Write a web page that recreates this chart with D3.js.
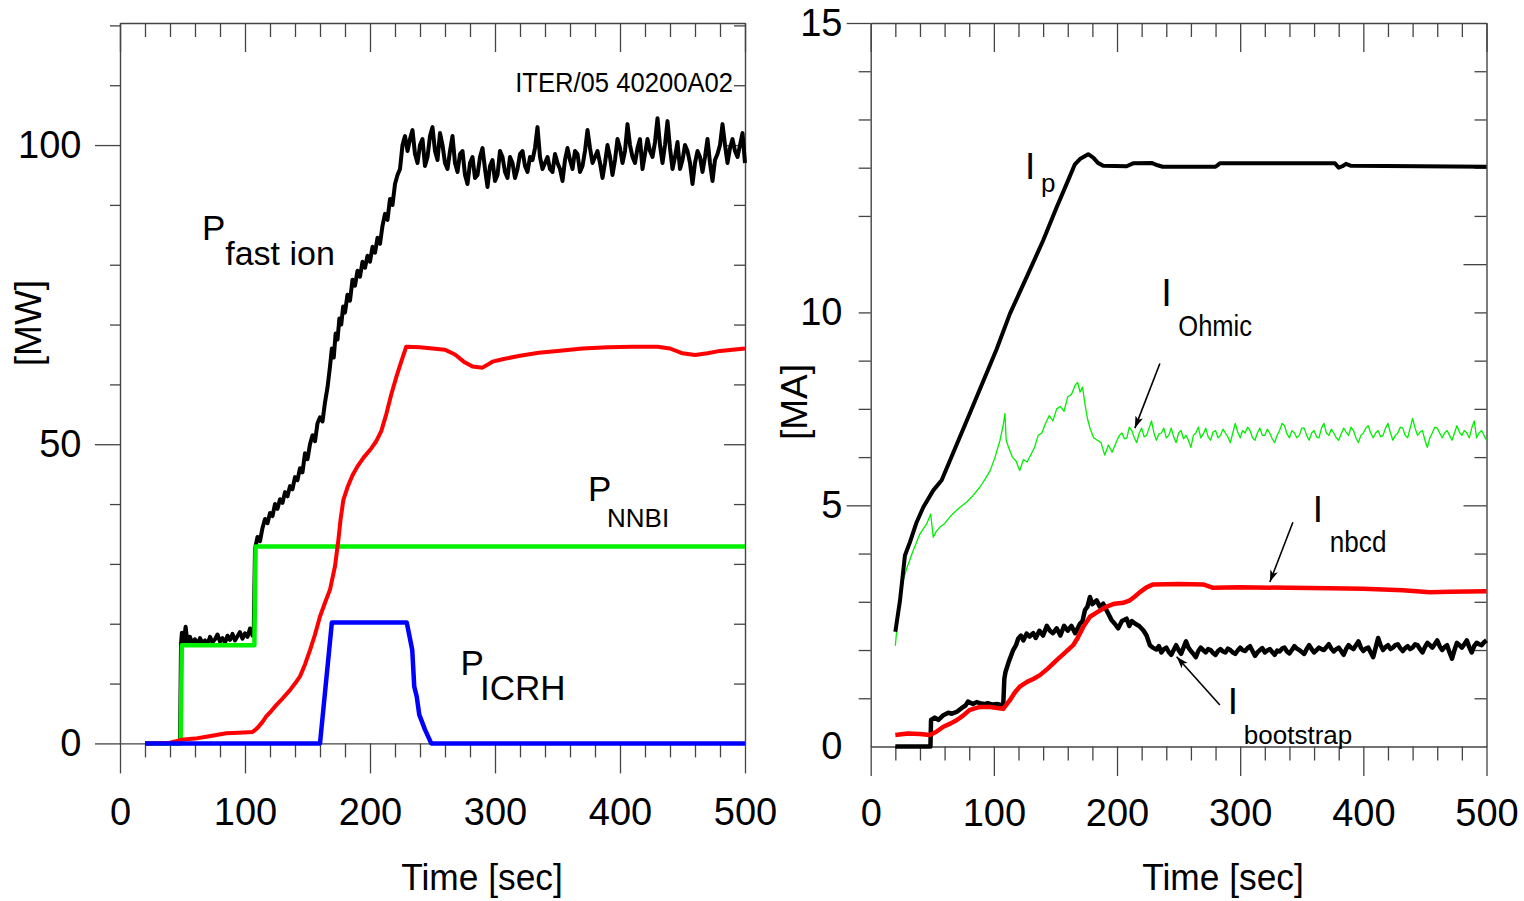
<!DOCTYPE html>
<html>
<head>
<meta charset="utf-8">
<script src="https://cdn.jsdelivr.net/npm/d3@7"></script>
<style>
  body { margin: 0; background: #fff; }
  text { font-family: "Liberation Sans", Arial, sans-serif; fill: #000; }
</style>
</head>
<body>
<svg id="chart" width="1524" height="901"></svg>
<script>
// ---- left panel data: power [MW] vs time [sec]
var pFastIon = [[20,0],[48,0],[48.8,16.5],[49.5,18.5],[51,17],[52.5,19.5],[54,16.8],[56,17.8],[58,16.6],[60,17.4],[62,16.5],[64,17.6],[66,16.8],[68,17.2],[70,16.6],[72,17.8],[74,16.9],[76,17.4],[78,18.2],[80,17],[82,17.6],[84,16.8],[86,18],[88,17.3],[90,18.3],[92,17.2],[94,17.9],[96,18.6],[98,17.5],[100,18.4],[102,17.8],[104,19.2],[106,18],[107,18.8],
  [108,32.5],[110,34.5],[112,33.8],[114,36],[116,37.5],[118,36.8],[120,38.5],[122,38],[124,40],[126,39.2],[128,40.8],[130,40.2],[132,42],[134,41.3],[136,43],[138,42.5],[140,44.5],[142,44],[144,46],[146,45.3],[148,48.5],[150,47.5],[152,50],[154,51.5],[156,50.5],[158,53.5],[160,54.5],[162,53.8],[164,57],[166,59.5],[168,63],[169.5,66],[171,64.5],[172.5,68.5],[174,67.5],[175.5,71],[177,70],[178.5,73],[180,72],[182,75],[184,74],[186,77.5],[188,76.5],[190,79],[192,78],[194,80.5],[196,79.5],[198,81.5],[200,80.5],[202,83],[204,82],[206,84.5],[208,83.5],[210,86.5],[212,88.5],[214,87.5],[216,91],[218,90],[220,93.5],[222,95],[224,96],[226,100],[228,101.5],
  [230,99],[232,101],[234,102.5],[236,98.5],[238,97],[240,100],[242,101],[244,96.5],[246,98],[248,101.5],[250,103],[252,99],[254,97.5],[256,102],[258,100],[260,97],[262,96],[264,99],[266,101.5],[268,97],[270,95.5],[272,98.5],[274,99],[276,95],[278,93.5],[280,97],[282,98],[284,94.5],[286,95],[288,98],[290,99.5],[292,96],[294,93],[296,96.5],[298,97.5],[300,94],[302,95],[304,99],[306,98],[308,95.5],[310,94.5],[312,98],[314,97],[316,94.5],[318,96],[320,98.5],[322,99],[324,96.5],[326,95.5],[328,98],[330,97.5],[332,99.5],[334,103],[336,98],[338,96],[340,97],[342,98],[344,96],[346,95.5],[348,98.5],[350,97],[352,96],[354,94],[356,97.5],[358,99.5],[360,97.5],[362,96],[364,99],[366,98.5],[368,95.5],[370,96.5],[372,99],[374,102.5],[376,99.5],[378,97],[380,98],[382,99],[384,97],[386,94.5],[388,97],[390,100],[392,98],[394,95],[396,97.5],[398,101],[400,99.5],[402,97],[404,99],[406,103.5],[408,100],[410,98],[412,97],[414,99.5],[416,101],[418,96],[420,98.5],[422,101],[424,99],[426,98],[428,100.5],[430,104.5],[432,100],[434,97],[436,100],[438,104],[440,99.5],[442,96],[444,98],[446,100.5],[448,96],[450,97.5],[452,100],[454,99],[456,97],[458,93.5],[460,97],[462,99],[464,98],[466,95.5],[468,98],[470,101],[472,97],[474,94],[476,97.5],[478,98.5],[480,100],[482,103.5],[484,100],[486,97],[488,99.5],[490,101],[492,99],[494,98],[496,100],[498,102],[500,97]];
var pAlpha = [[20,0],[40,0.1],[49,0.6],[60,0.8],[69,1.1],[77,1.4],[85,1.7],[95,1.8],[106,1.9],[110,2.6],[114,3.6],[117,4.5],[121,5.4],[125,6.4],[130,7.5],[136,8.9],[140,10],[144,11.2],[148,13.2],[152,15.6],[156,18.2],[160,21.2],[164,23.5],[168,25.7],[172,29.6],[174.7,34],[176.5,37.5],[178.7,40.7],[182,42.8],[186,44.8],[190,46.3],[195,47.8],[201,49.3],[205,50.5],[209,52.2],[213,55],[217,58.3],[221,61.2],[225,63.8],[229,66.3],
  [240,66.2],[250,66],[260,65.8],[268,65],[275,63.8],[282,63],[290,62.8],[298,63.8],[306,64.2],[320,64.8],[335,65.3],[350,65.6],[370,66],[390,66.2],[410,66.3],[430,66.3],[440,66],[450,65.2],[460,64.9],[470,65.2],[480,65.6],[490,65.8],[500,66]];
var pNNBI = [[20,0],[48.5,0],[49.5,16.4],[107.5,16.4],[108.5,32.9],[500,32.9]];
var pICRH = [[20,0],[160,0],[169.5,20.2],[229.4,20.2],[233.8,15.6],[235.4,9.5],[237.4,7.8],[239.4,4.8],[244,2.3],[249,0],[500,0]];

// ---- right panel data: current [MA] vs time [sec]
var iPlasma = [[20,2.38],[23.8,3.03],[27.8,3.96],[31.9,4.24],[37.3,4.65],[42.7,4.96],[50.8,5.31],[57.6,5.52],[70,6.27],[80,6.88],[90,7.49],[102.3,8.24],[113,8.97],[126.6,9.73],[140,10.49],[151,11.18],[159,11.66],[165.8,12.07],[169.9,12.18],[176.6,12.28],[180.7,12.21],[184.5,12.1],[188.8,12.04],[207.8,12.03],[213,12.09],[228,12.1],[233,12.05],[237,12.02],[280,12.02],[283.5,12.09],[377,12.09],[380,12.0],[383,12.03],[386,12.08],[390,12.04],[500,12.02]];
var iOhmic = [[20,2.09],[22.4,2.76],[26.5,3.45],[29.2,3.69],[34.6,4.07],[40,4.41],[45.5,4.62],[48.7,4.82],[50.8,4.34],[53,4.45],[56.2,4.55],[60,4.62],[64,4.75],[67,4.83],[72,4.95],[78,5.07],[83,5.2],[88.7,5.38],[93,5.55],[97,5.72],[101,6.0],[105,6.35],[107.5,6.65],[109,6.9],[110,6.35],[112,6.2],[115,6.0],[118,5.92],[121,5.72],[124,5.95],[127,5.9],[130,6.05],[133,6.2],[136,6.45],[139,6.5],[142,6.7],[145,6.86],[148,6.75],[151,7.0],[154,7.05],[157,6.95],[160,7.25],[163,7.3],[166,7.49],[168,7.55],[170,7.35],[172,7.45],[174,7.1],[176,6.8],[178,6.6],[181,6.4],[184,6.35],[187,6.3],[190,6.04],[193,6.25],[196,6.1],
  [200,6.35],[202,6.45],[204,6.5],[206,6.38],[208,6.4],[210,6.62],[212,6.55],[214,6.4],[216,6.3],[218,6.5],[220,6.6],[222,6.42],[224,6.45],[226,6.6],[228,6.75],[230,6.5],[232,6.35],[234,6.48],[236,6.5],[238,6.6],[240,6.4],[242,6.45],[244,6.6],[246,6.42],[248,6.3],[250,6.5],[252,6.55],[254,6.38],[256,6.45],[258,6.35],[260,6.2],[262,6.45],[264,6.5],[266,6.62],[268,6.4],[270,6.48],[272,6.6],[274,6.42],[276,6.35],[278,6.52],[280,6.55],[282,6.4],[284,6.45],[286,6.58],[288,6.5],[290,6.42],[292,6.3],[294,6.5],[296,6.7],[298,6.52],[300,6.4],[302,6.55],[304,6.5],[306,6.62],[308,6.55],[310,6.4],[312,6.35],[314,6.5],[316,6.6],[318,6.45],[320,6.45],[322,6.58],[324,6.5],[326,6.38],[328,6.3],[330,6.45],[332,6.55],[334,6.7],[336,6.65],[338,6.48],[340,6.4],[342,6.55],[344,6.5],[346,6.4],[348,6.45],[350,6.6],[352,6.6],[354,6.45],[356,6.35],[358,6.5],[360,6.55],[362,6.42],[364,6.4],[366,6.6],[368,6.7],[370,6.5],[372,6.45],[374,6.58],[376,6.5],[378,6.4],[380,6.35],[382,6.48],[384,6.6],[386,6.52],[388,6.45],[390,6.62],[392,6.55],[394,6.4],[396,6.3],[398,6.45],[400,6.5],[402,6.6],[404,6.65],[406,6.5],[408,6.4],[410,6.5],[412,6.55],[414,6.42],[416,6.45],[418,6.6],[420,6.7],[422,6.5],[424,6.35],[426,6.45],[428,6.5],[430,6.62],[432,6.6],[434,6.45],[436,6.4],[438,6.6],[440,6.8],[442,6.6],[444,6.45],[446,6.52],[448,6.55],[450,6.35],[452,6.2],[454,6.4],[456,6.5],[458,6.62],[460,6.6],[462,6.5],[464,6.4],[466,6.5],[468,6.55],[470,6.45],[472,6.35],[474,6.5],[476,6.65],[478,6.52],[480,6.45],[482,6.55],[484,6.5],[486,6.4],[488,6.6],[490,6.75],[492,6.4],[494,6.5],[496,6.55],[498,6.45],[500,6.35]];
var iNbcd = [[20,0.24],[30,0.27],[40,0.26],[48,0.24],[53,0.3],[59,0.41],[65,0.48],[70,0.55],[75,0.64],[80.6,0.76],[88.7,0.82],[97,0.82],[103,0.8],[107.6,0.78],[113,0.96],[117,1.12],[121,1.24],[127,1.34],[132,1.4],[137.4,1.48],[144,1.62],[151,1.79],[158,1.95],[164.4,2.1],[168,2.25],[172.6,2.48],[178,2.69],[185,2.8],[191.6,2.9],[198,2.96],[205,2.98],[210.5,3.03],[214,3.1],[218.6,3.2],[224,3.3],[229.4,3.36],[250,3.37],[270,3.36],[278,3.29],[300,3.3],[340,3.29],[372.8,3.28],[400,3.27],[432,3.24],[454,3.2],[470,3.21],[500,3.22]];
var iBootstrap = [[20,0],[48.5,0],[49,0.55],[52,0.6],[55,0.55],[59,0.65],[63,0.7],[66,0.68],[70,0.72],[74,0.8],[77,0.85],[79,0.93],[83,0.88],[86,0.92],[88.7,0.9],[92,0.88],[95,0.9],[99,0.87],[103,0.88],[107.6,0.85],[108.5,1.4],[109.5,1.55],[112,1.75],[115.7,2.0],[118,2.1],[119.8,2.24],[122,2.3],[124,2.2],[126.6,2.34],[129,2.28],[132,2.35],[134,2.25],[137,2.4],[140,2.3],[143,2.5],[145.5,2.4],[148,2.35],[151,2.45],[154,2.3],[157,2.5],[160,2.4],[163,2.5],[166,2.35],[170,2.55],[172,2.6],[174,2.83],[176,2.9],[178,3.1],[180,2.95],[183.4,3.03],[186,2.9],[188.8,2.96],[192,2.8],[195.6,2.62],[198,2.55],[201,2.45],[204,2.6],[207.8,2.65],[210,2.5],[212,2.6],[214.5,2.55],[218,2.5],[221.3,2.41],[224,2.3],[226.7,2.1],[229,2.05],
  [232,2.01],[234,2.08],[236,1.95],[238,2.02],[240,2.05],[242,1.96],[244,1.9],[246,2.0],[248,2.1],[250,2.0],[252,1.92],[254,2.05],[256,2.18],[258,2.05],[260,1.98],[262,1.92],[264,1.85],[266,1.98],[268,2.05],[270,2.0],[272,1.95],[274,2.02],[276,2.0],[278,1.94],[280,1.9],[282,1.98],[284,2.02],[286,1.97],[288,1.95],[290,2.03],[292,2.0],[294,1.95],[296,1.92],[298,1.99],[300,2.05],[302,2.0],[304,1.98],[306,2.04],[308,2.08],[310,1.98],[312,1.88],[314,1.95],[316,2.0],[318,2.04],[320,1.95],[322,1.99],[324,2.02],[326,1.96],[328,1.9],[330,1.99],[332,1.97],[334,2.03],[336,2.05],[338,1.97],[340,1.93],[342,2.0],[344,2.08],[346,2.03],[348,2.0],[350,1.96],[352,1.92],[354,2.02],[356,2.1],[358,2.02],[360,1.95],[362,2.0],[364,2.05],[366,2.02],[368,2.0],[370,2.06],[372,2.12],[374,2.03],[376,1.97],[378,2.02],[380,2.05],[382,1.98],[384,1.9],[386,2.02],[388,2.1],[390,2.05],[392,2.02],[394,2.1],[396,2.18],[398,2.05],[400,1.98],[402,2.03],[404,2.05],[406,1.95],[408,1.85],[410,2.05],[412,2.25],[414,2.1],[416,2.0],[418,2.06],[420,2.1],[422,2.02],[424,2.05],[426,2.1],[428,2.12],[430,2.04],[432,1.98],[434,2.04],[436,2.08],[438,2.02],[440,2.05],[442,2.12],[444,2.1],[446,2.02],[448,1.95],[450,2.06],[452,2.15],[454,2.1],[456,2.05],[458,2.12],[460,2.2],[462,2.08],[464,2.0],[466,2.06],[468,2.1],[470,1.95],[472,1.82],[474,2.0],[476,2.15],[478,2.1],[480,2.05],[482,2.12],[484,2.2],[486,2.06],[488,1.95],[490,2.08],[492,2.15],[494,2.12],[496,2.1],[498,2.16],[500,2.2]];

// ---- ticks
var timeMajor = [0, 100, 200, 300, 400, 500];
var timeMinor = [20,40,60,80,120,140,160,180,220,240,260,280,320,340,360,380,420,440,460,480];
var powerMajor = [0, 50, 100];
var powerMinor = [10,20,30,40,60,70,80,90,110,120];
var currentMajor = [5, 15];
var currentMinor = [1,2,3,4,6,7,8,9,11,12,13,14];
var currentRightMajor = [5, 10];
var currentLabelAt = [0, 5, 9, 15];
var currentLabelText = ["0", "5", "10", "15"];

var svg = d3.select("#chart");
var axisColor = "#444";

svg.append("defs").append("marker")
  .attr("id", "head")
  .attr("markerUnits", "userSpaceOnUse")
  .attr("markerWidth", 14).attr("markerHeight", 10)
  .attr("refX", 12).attr("refY", 4)
  .attr("orient", "auto")
  .append("path")
  .attr("d", "M0,0 L12,4 L0,8 L3,4 z")
  .attr("fill", "#000");

function ticks(g, axis, tx, ty, noDomain) {
  var a = g.append("g")
    .attr("transform", "translate(" + tx + "," + ty + ")")
    .call(axis);
  a.selectAll(".tick line").attr("stroke", axisColor).attr("stroke-width", 1.3);
  a.select(".domain").attr("stroke", axisColor).attr("stroke-width", 1.4);
  if (noDomain) a.select(".domain").remove();
  return a;
}

function label(g, x, y, s, size, sx, anchor) {
  g.append("text")
    .attr("transform", "translate(" + x + "," + y + ") scale(" + (sx || 1) + ",1)")
    .attr("text-anchor", anchor || "start")
    .style("font-size", size + "px")
    .text(s);
}

function line(g, x, y, data, color, w) {
  g.append("path")
    .datum(data)
    .attr("fill", "none")
    .attr("stroke", color)
    .attr("stroke-width", w)
    .attr("stroke-linejoin", "round")
    .attr("d", d3.line().x(function(d) { return x(d[0]); }).y(function(d) { return y(d[1]); }));
}

// ================= left panel
var xL = d3.scaleLinear().domain([0, 500]).range([120, 745]);
var yL = d3.scaleLinear().domain([0, 120.4]).range([743.4, 23]);
var gL = svg.append("g");

ticks(gL, d3.axisBottom(xL).tickValues(timeMinor).tickSize(14).tickSizeOuter(0).tickFormat(""), 0, yL(0));
var bl = ticks(gL, d3.axisBottom(xL).tickValues(timeMajor).tickSize(30).tickSizeOuter(0), 0, yL(0), true);
bl.selectAll("text").attr("y", 82).attr("dy", 0).style("font-size", "38px");
ticks(gL, d3.axisBottom(xL).tickValues(timeMinor).tickSize(14).tickSizeOuter(0).tickFormat(""), 0, yL(120.4));
ticks(gL, d3.axisBottom(xL).tickValues(timeMajor).tickSize(29).tickSizeOuter(0).tickFormat(""), 0, yL(120.4), true);
ticks(gL, d3.axisLeft(yL).tickValues(powerMinor).tickSize(10).tickSizeOuter(0).tickFormat(""), xL(0), 0);
var ll = ticks(gL, d3.axisLeft(yL).tickValues(powerMajor).tickSize(25).tickSizeOuter(0), xL(0), 0, true);
ll.selectAll("text").attr("x", -38.5).style("font-size", "38px");
ticks(gL, d3.axisRight(yL).tickValues(powerMinor).tickSize(-11).tickSizeOuter(0).tickFormat(""), xL(500), 0);
ticks(gL, d3.axisRight(yL).tickValues(powerMajor).tickSize(-21).tickSizeOuter(0).tickFormat(""), xL(500), 0, true);
gL.selectAll(".tick text").attr("font-family", null);

line(gL, xL, yL, pFastIon, "#000", 4);
line(gL, xL, yL, pNNBI, "#00f000", 4.5);
line(gL, xL, yL, pAlpha, "#ff0000", 4);
line(gL, xL, yL, pICRH, "#0000ff", 4.5);

var leftLabels = [
  {t: 65.6, v: 84.2, s: "P", size: 35},
  {t: 84.2, v: 80.0, s: "fast ion", size: 34},
  {t: 374.4, v: 40.5, s: "P", size: 35},
  {t: 389.6, v: 36.2, s: "NNBI", size: 26},
  {t: 272.4, v: 11.45, s: "P", size: 35},
  {t: 288, v: 7.27, s: "ICRH", size: 35}
];
leftLabels.forEach(function(d) { label(gL, xL(d.t), yL(d.v), d.s, d.size); });
label(gL, xL(490.4), yL(108.9), "ITER/05 40200A02", 28, 0.915, "end");

svg.append("text")
  .attr("transform", "translate(41,323) rotate(-90)")
  .attr("text-anchor", "middle").style("font-size", "37px").text("[MW]");
label(svg, 482, 890, "Time [sec]", 37, 0.955, "middle");

// ================= right panel
var xR = d3.scaleLinear().domain([0, 500]).range([870.7, 1486.5]);
var yR = d3.scaleLinear().domain([0, 15]).range([746.5, 23]);
var gR = svg.append("g");

ticks(gR, d3.axisBottom(xR).tickValues(timeMinor).tickSize(14).tickSizeOuter(0).tickFormat(""), 0, yR(0));
var br = ticks(gR, d3.axisBottom(xR).tickValues(timeMajor).tickSize(29.5).tickSizeOuter(0), 0, yR(0), true);
br.selectAll("text").attr("y", 79).attr("dy", 0).style("font-size", "38px");
ticks(gR, d3.axisBottom(xR).tickValues(timeMinor).tickSize(14).tickSizeOuter(0).tickFormat(""), 0, yR(15));
ticks(gR, d3.axisBottom(xR).tickValues(timeMajor).tickSize(29).tickSizeOuter(0).tickFormat(""), 0, yR(15), true);
ticks(gR, d3.axisLeft(yR).tickValues(currentMinor).tickSize(12).tickSizeOuter(0).tickFormat(""), xR(0), 0);
ticks(gR, d3.axisLeft(yR).tickValues(currentMajor).tickSize(24).tickSizeOuter(0).tickFormat(""), xR(0), 0, true);
var lr = ticks(gR, d3.axisLeft(yR).tickValues(currentLabelAt).tickSize(0).tickSizeOuter(0)
  .tickFormat(function(d, i) { return currentLabelText[i]; }), xR(0), 0, true);
lr.selectAll("text").attr("x", -28.2).style("font-size", "38px");
ticks(gR, d3.axisRight(yR).tickValues(currentMinor).tickSize(-12).tickSizeOuter(0).tickFormat(""), xR(500), 0);
ticks(gR, d3.axisRight(yR).tickValues(currentRightMajor).tickSize(-23).tickSizeOuter(0).tickFormat(""), xR(500), 0, true);
gR.selectAll(".tick text").attr("font-family", null);

line(gR, xR, yR, iBootstrap, "#000", 4.5);
line(gR, xR, yR, iNbcd, "#ff0000", 4.5);
line(gR, xR, yR, iOhmic, "#00ee00", 1.3);
line(gR, xR, yR, iPlasma, "#000", 4);

var arrows = [
  {t0: 234.8, v0: 7.94, t1: 214.5, v1: 6.6},
  {t0: 342.8, v0: 4.65, t1: 324.1, v1: 3.41},
  {t0: 283.5, v0: 0.86, t1: 248.4, v1: 1.86}
];
arrows.forEach(function(a) {
  gR.append("line")
    .attr("x1", xR(a.t0)).attr("y1", yR(a.v0))
    .attr("x2", xR(a.t1)).attr("y2", yR(a.v1))
    .attr("stroke", "#000").attr("stroke-width", 1.6)
    .attr("marker-end", "url(#head)");
});

var rightLabels = [
  {t: 125.2, v: 11.76, s: "I", size: 37},
  {t: 138.2, v: 11.5, s: "p", size: 26},
  {t: 236.0, v: 9.14, s: "I", size: 38},
  {t: 249.8, v: 8.52, s: "Ohmic", size: 29, sx: 0.88},
  {t: 359.0, v: 4.65, s: "I", size: 37},
  {t: 372.8, v: 4.03, s: "nbcd", size: 29, sx: 0.9},
  {t: 290.0, v: 0.673, s: "I", size: 37},
  {t: 303.0, v: 0.062, s: "bootstrap", size: 26}
];
rightLabels.forEach(function(d) { label(gR, xR(d.t), yR(d.v), d.s, d.size, d.sx); });

svg.append("text")
  .attr("transform", "translate(807,402) rotate(-90)")
  .attr("text-anchor", "middle").style("font-size", "37px").text("[MA]");
label(svg, 1223, 890, "Time [sec]", 37, 0.955, "middle");
</script>
</body>
</html>
